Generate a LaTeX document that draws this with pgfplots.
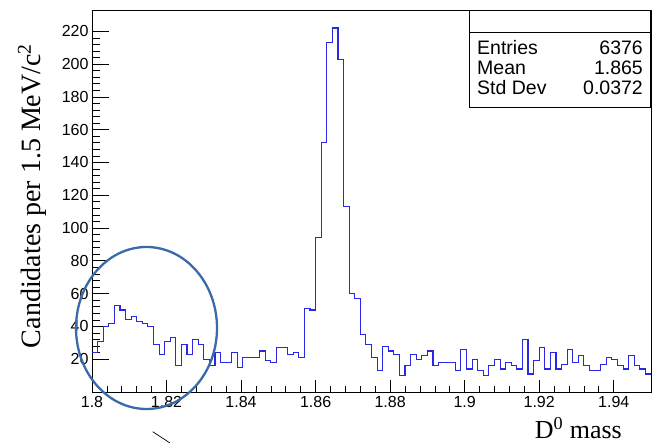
\documentclass[border=0pt]{standalone}
\usepackage{fontspec}
\setmainfont{Liberation Serif}
\setsansfont{Liberation Sans}
\usepackage{pgfplots}
\pgfplotsset{compat=1.18}
\definecolor{histblue}{RGB}{40,40,230}
\definecolor{ellblue}{RGB}{58,106,168}

\begin{document}
\begin{tikzpicture}[x=1pt,y=1pt]
\useasboundingbox (0,0) rectangle (654,443);
\begin{axis}[
  at={(92pt,51pt)}, anchor=south west,
  scale only axis, width=559pt, height=382pt,
  xmin=1.8, xmax=1.95, ymin=0, ymax=233,
  xtick={1.8,1.82,1.84,1.86,1.88,1.9,1.92,1.94},
  xticklabels={1.8,1.82,1.84,1.86,1.88,1.9,1.92,1.94},
  ytick={20,40,60,80,100,120,140,160,180,200,220},
  yticklabels={20,40,60,80,100,120,140,160,180,200,220},
  minor x tick num=4, minor y tick num=4,
  tick align=inside, xtick pos=bottom, ytick pos=left,
  xtick style={/pgfplots/major tick length=11.5pt,/pgfplots/minor tick length=5.7pt,line width=0.7pt,black},
  ytick style={/pgfplots/major tick length=16.8pt,/pgfplots/minor tick length=8.4pt,line width=0.7pt,black},
  axis line style={line width=0.8pt},
  ticklabel style={font=\sffamily\fontsize{16}{16}\selectfont},
  xticklabel style={yshift=-1pt},
]
\addplot[const plot mark left, draw=histblue, line width=1.1pt] coordinates {
(1.8000,24)(1.8015,31)(1.8030,40)(1.8045,42)(1.8060,53)(1.8075,50)(1.8090,44)(1.8105,46)(1.8120,43)(1.8135,42)
(1.8150,40)(1.8165,29)(1.8180,23)(1.8195,31)(1.8210,33)(1.8225,16)(1.8240,29)(1.8255,23)(1.8270,32)(1.8285,29)
(1.8300,20)(1.8315,16)(1.8330,24)(1.8345,18)(1.8360,18)(1.8375,24)(1.8390,15)(1.8405,21)(1.8420,21)(1.8435,21)
(1.8450,25)(1.8465,19)(1.8480,18)(1.8495,27)(1.8510,27)(1.8525,23)(1.8540,24)(1.8555,21)(1.8570,51)(1.8585,50)
(1.8600,94)(1.8615,152)(1.8630,213)(1.8645,222)(1.8660,203)(1.8675,113)(1.8690,60)(1.8705,57)(1.8720,35)(1.8735,29)
(1.8750,21)(1.8765,13)(1.8780,28)(1.8795,25)(1.8810,23)(1.8825,10)(1.8840,16)(1.8855,23)(1.8870,20)(1.8885,22)
(1.8900,25)(1.8915,16)(1.8930,18)(1.8945,18)(1.8960,18)(1.8975,13)(1.8990,26)(1.9005,14)(1.9020,20)(1.9035,13)
(1.9050,10)(1.9065,16)(1.9080,20)(1.9095,14)(1.9110,18)(1.9125,16)(1.9140,14)(1.9155,32)(1.9170,11)(1.9185,19)
(1.9200,27)(1.9215,14)(1.9230,24)(1.9245,14)(1.9260,17)(1.9275,26)(1.9290,18)(1.9305,22)(1.9320,16)(1.9335,13)
(1.9350,13)(1.9365,17)(1.9380,21)(1.9395,20)(1.9410,16)(1.9425,14)(1.9440,22)(1.9455,16)(1.9470,14)(1.9485,11)
(1.9500,11)
};
\end{axis}
% statistics box
\draw[line width=0.8pt, fill=white] (469,336) rectangle (650,433);
\draw[line width=0.8pt] (469,411) -- (650,411);
\begin{scope}[every node/.style={font=\sffamily\fontsize{19.5}{19.5}\selectfont, inner sep=0pt}]
\node[anchor=west] at (477,395.4) {Entries};
\node[anchor=east] at (643,395.4) {6376};
\node[anchor=west] at (477,375.4) {Mean};
\node[anchor=east] at (643,375.4) {1.865};
\node[anchor=west] at (477,355.6) {Std Dev};
\node[anchor=east] at (643,355.6) {0.0372};
\end{scope}
% axis titles
\node[anchor=east, font=\fontsize{26}{26}\selectfont, inner sep=0pt] at (622,15) {D\textsuperscript{0} mass};
\node[rotate=90, font=\fontsize{28}{28}\selectfont, inner sep=0pt] at (32,247) {Candidates per 1.5 MeV/c\textsuperscript{2}};
% annotation
\draw[ellblue, line width=2.3pt] (146.5,115) ellipse (70.5 and 81);
\draw[black, line width=0.7pt] (152.7,11.3) -- (170,0);
\end{tikzpicture}
\end{document}
